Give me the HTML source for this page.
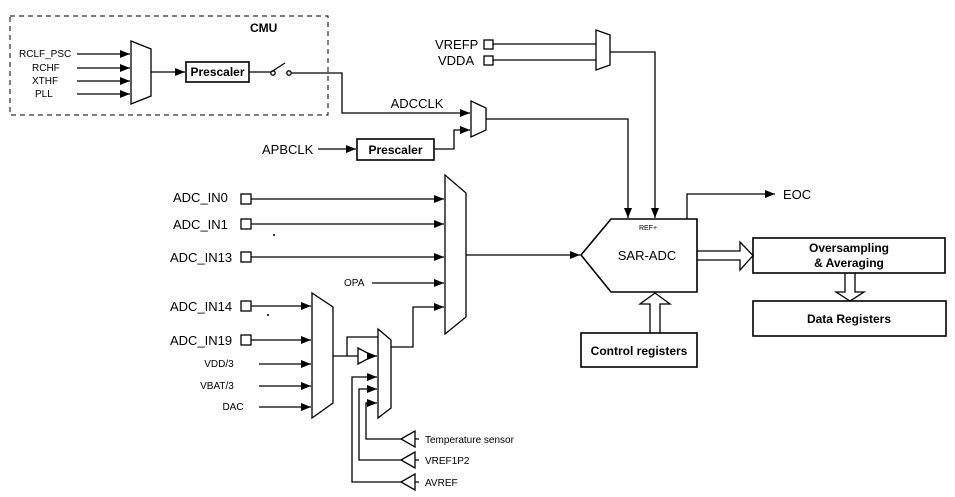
<!DOCTYPE html>
<html><head><meta charset="utf-8"><style>body{margin:0;background:#fff}svg{display:block}</style></head><body>
<svg width="955" height="497" viewBox="0 0 955 497" xmlns="http://www.w3.org/2000/svg" font-family="Liberation Sans, Arial, sans-serif">
<defs><marker id="a" markerWidth="10" markerHeight="8" refX="10" refY="4" orient="auto" markerUnits="userSpaceOnUse"><path d="M0,0 L10,4 L0,8 Z" fill="#000"/></marker></defs>
<g stroke="#000" stroke-width="1.3" fill="none">
<rect x="10" y="16" width="318" height="99" stroke-dasharray="5,4" stroke-width="1"/>
<g marker-end="url(#a)"><path d="M77,54H130"/><path d="M77,68H130"/><path d="M77,81H130"/><path d="M77,94H130"/></g>
<path d="M131,41L151,49V96L131,104Z" fill="#fff"/>
<path d="M151,72H185" marker-end="url(#a)"/>
<rect x="186" y="62" width="63" height="20" stroke-width="1.6"/>
<path d="M249,72H271L285,63"/>
<circle cx="273" cy="73" r="2.2"/><circle cx="289" cy="73" r="2.2"/>
<path d="M291,73H342V113H470" marker-end="url(#a)"/>
<path d="M471,101L486,108V130L471,137Z" fill="#fff"/>
<path d="M486,119H628V218" marker-end="url(#a)"/>
<path d="M318,149H356" marker-end="url(#a)"/>
<rect x="357" y="139" width="77" height="21" stroke-width="1.6"/>
<path d="M434,149H454V130H470" marker-end="url(#a)"/>
<rect x="484" y="40" width="9" height="9"/><rect x="484" y="56" width="9" height="9"/>
<path d="M493,44H596M493,60H596"/>
<path d="M596,30L610,35V65L596,70Z" fill="#fff"/>
<path d="M610,52H655V218" marker-end="url(#a)"/>
<path d="M581,255L611,219H697V292H611Z" stroke-width="1.6"/>
<path d="M687,219V194H775" marker-end="url(#a)"/>
<path d="M697,251H740V242L753,255.5L740,270V260H697"/>
<rect x="753" y="238" width="192" height="35" stroke-width="1.6"/>
<path d="M845,273V292H836L850,301L864,292H855V273"/>
<rect x="753" y="301" width="193" height="35" stroke-width="1.6"/>
<rect x="581" y="333" width="116" height="34" stroke-width="1.6"/>
<path d="M650,333V304H640L655,293L670,304H660V333"/>
<rect x="241" y="194" width="10" height="10"/><rect x="241" y="219" width="10" height="10"/><rect x="241" y="252" width="10" height="10"/>
<rect x="241" y="301" width="10" height="10"/><rect x="241" y="335" width="10" height="10"/>
<g marker-end="url(#a)"><path d="M251,199H444"/><path d="M251,224H444"/><path d="M251,257H444"/><path d="M372,283H444"/><path d="M391,347H413V307H444"/></g>
<path d="M445,175L466,193V317L445,334Z" fill="#fff"/>
<path d="M466,255H580" marker-end="url(#a)"/>
<g marker-end="url(#a)"><path d="M251,306H311"/><path d="M251,340H311"/><path d="M259,364H311"/><path d="M259,386H311"/><path d="M259,407H311"/></g>
<path d="M312,293L333,307V403L312,418Z" fill="#fff"/>
<path d="M333,356H358M347,356V337H378"/>
<path d="M358,348L373,356L358,364Z"/>
<path d="M373,356H377" marker-end="url(#a)"/>
<path d="M378,329L391,340V408L378,418Z" fill="#fff"/>
<g marker-end="url(#a)"><path d="M401,482H352V377H377"/><path d="M401,460H359V389H377"/><path d="M401,439H366V403H377"/></g>
<path d="M401,439L415,431V447ZM415,439H419M401,460L415,452V468ZM415,460H419M401,482L415,474V490ZM415,482H419"/>
</g>
<circle cx="274" cy="235" r="1" fill="#000"/><circle cx="268" cy="315" r="1" fill="#000"/>
<g font-size="10" fill="#000">
<text x="250" y="32" font-weight="bold" font-size="12">CMU</text>
<text x="19" y="57">RCLF_PSC</text><text x="32" y="71">RCHF</text><text x="32" y="84">XTHF</text><text x="35" y="97">PLL</text>
<text x="217.5" y="76" font-weight="bold" font-size="12" text-anchor="middle">Prescaler</text>
<text x="395.5" y="154" font-weight="bold" font-size="12" text-anchor="middle">Prescaler</text>
<text x="417" y="108" font-size="13" text-anchor="middle">ADCCLK</text>
<text x="262" y="154" font-size="13">APBCLK</text>
<text x="435" y="49" font-size="13">VREFP</text><text x="438" y="65" font-size="13">VDDA</text>
<text x="648" y="230" font-size="7" text-anchor="middle">REF+</text>
<text x="647" y="260" font-size="13" text-anchor="middle">SAR-ADC</text>
<text x="783" y="199" font-size="13">EOC</text>
<text x="849" y="252" font-weight="bold" font-size="12" text-anchor="middle">Oversampling</text>
<text x="849" y="267" font-weight="bold" font-size="12" text-anchor="middle">&amp; Averaging</text>
<text x="849" y="323" font-weight="bold" font-size="12" text-anchor="middle">Data Registers</text>
<text x="639" y="355" font-weight="bold" font-size="12" text-anchor="middle">Control registers</text>
<g font-size="13"><text x="173" y="202">ADC_IN0</text><text x="173" y="229">ADC_IN1</text><text x="170" y="262">ADC_IN13</text><text x="170" y="311">ADC_IN14</text><text x="170" y="345">ADC_IN19</text></g>
<text x="344" y="286">OPA</text>
<text x="219" y="367" text-anchor="middle">VDD/3</text><text x="217" y="389" text-anchor="middle">VBAT/3</text><text x="233" y="410" text-anchor="middle">DAC</text>
<text x="425" y="443">Temperature sensor</text><text x="425" y="464">VREF1P2</text><text x="425" y="486">AVREF</text>
</g>
</svg>
</body></html>
